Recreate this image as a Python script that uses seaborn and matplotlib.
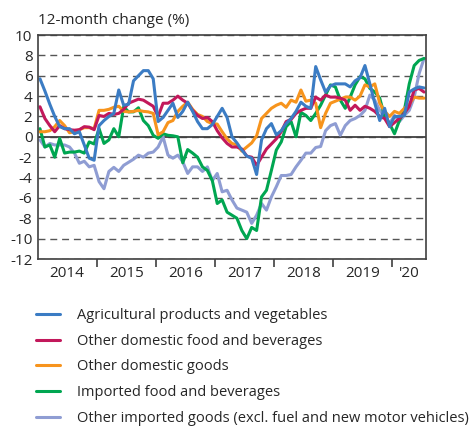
import numpy as np
import pandas as pd
import matplotlib
matplotlib.use('Agg')
import matplotlib.pyplot as plt
import seaborn as sns

# monthly values, Jan 2014 .. Jul 2020
agri = [5.7, 4.5, 3.2, 2.0, 1.0, 0.8, 0.8, 0.3, 0.5, -0.8, -2.1, -2.3,
        1.1, 1.6, 2.0, 2.3, 4.6, 3.1, 3.2, 5.5, 6.0, 6.5, 6.5, 5.7,
        1.5, 1.9, 2.6, 3.3, 1.9, 2.5, 3.4, 2.5, 1.5, 0.8, 0.8, 1.2,
        2.0, 2.8, 1.9, 0.0, -0.6, -1.3, -1.9, -2.1, -3.7, -0.3, 0.8, 1.3,
        0.2, 0.6, 1.3, 1.8, 2.5, 3.4, 3.0, 2.8, 6.9, 5.6, 4.4, 5.0,
        5.2, 5.2, 5.2, 4.9, 5.5, 5.8, 7.0, 5.2, 3.3, 1.6, 2.8, 1.0,
        2.0, 2.0, 2.1, 4.4, 4.7, 4.9, 4.8]
dom_food = [2.95, 1.8, 1.1, 0.5, 1.1, 0.8, 0.7, 0.65, 0.7, 1.0, 0.95, 0.7,
            2.1, 2.0, 2.3, 2.2, 2.3, 2.7, 3.3, 3.5, 3.7, 3.6, 3.3, 3.0,
            2.0, 3.3, 3.3, 3.6, 4.0, 3.6, 3.3, 2.6, 2.1, 1.8, 1.9, 1.5,
            0.6, -0.1, -0.65, -1.0, -1.0, -1.2, -1.9, -2.0, -2.8, -2.0, -1.2, -0.7,
            -0.2, 0.5, 1.5, 1.7, 2.3, 2.6, 2.8, 2.8, 3.9, 3.6, 4.1, 3.9,
            3.9, 3.8, 3.6, 2.6, 3.1, 2.6, 3.0, 2.8, 2.5, 2.0, 1.8, 1.0,
            1.4, 1.8, 2.3, 3.0, 4.6, 4.75, 4.4]
dom_goods = [0.5, 0.5, 0.6, 1.0, 1.6, 1.1, 0.4, 0.5, 0.7, 0.9, 0.9, 0.8,
             2.6, 2.6, 2.7, 2.9, 3.0, 2.5, 2.45, 2.5, 2.6, 2.5, 2.45, 2.3,
             0.2, 0.5, 1.4, 1.6, 2.5, 3.0, 3.4, 2.7, 2.2, 2.0, 1.5, 1.3,
             1.25, 0.5, -0.2, -0.65, -0.8, -1.4, -1.0, -0.6, 0.1, 1.8, 2.3, 2.8,
             3.1, 3.3, 2.9, 3.6, 3.4, 4.6, 3.5, 3.6, 3.3, 0.9, 2.3, 3.3,
             3.5, 3.7, 3.9, 3.9, 3.6, 4.0, 5.1, 4.9, 5.2, 3.3, 2.5, 2.0,
             2.5, 2.3, 2.8, 3.2, 3.9, 3.8, 3.8]
imp_food = [0.8, -1.0, -0.8, -2.0, -0.15, -1.6, -1.5, -1.5, -1.4, -1.6, -0.5, -0.7,
            0.8, -0.65, -0.3, 0.8, 0.0, 2.95, 2.45, 2.45, 2.85, 1.6, 1.1, 0.15,
            -0.15, 0.3, 0.15, 0.1, 0.0, -2.55, -1.25, -1.6, -2.0, -2.95, -3.3, -4.3,
            -6.55, -6.2, -7.4, -7.7, -8.0, -9.2, -10.0, -8.9, -9.2, -5.9, -5.25, -3.3,
            -1.3, -0.5, 1.0, 1.5, 0.0, 2.4, 2.1, 1.6, 2.3, 3.1, 4.1, 5.1,
            4.9, 3.6, 2.8, 3.9, 5.1, 5.9, 5.7, 4.75, 4.4, 3.8, 2.0, 1.3,
            0.3, 1.6, 2.6, 5.2, 7.0, 7.5, 7.7]
imp_goods = [-0.3, -1.0, -0.65, -0.8, -0.8, -0.8, -1.0, -1.6, -2.6, -2.4, -2.95, -2.8,
             -4.4, -5.1, -3.4, -3.0, -3.4, -2.8, -2.5, -2.2, -1.8, -2.0, -1.6, -1.5,
             -1.0, 0.0, -1.8, -2.1, -1.8, -2.45, -3.6, -2.95, -2.95, -3.4, -2.95, -4.3,
             -3.6, -5.4, -5.25, -6.2, -7.0, -7.2, -7.4, -8.5, -7.7, -6.55, -7.2, -5.9,
             -4.9, -3.8, -3.8, -3.7, -2.95, -2.3, -1.6, -1.6, -1.05, -0.95, 0.6, 1.1,
             1.3, 0.15, 1.1, 1.6, 1.8, 2.1, 2.6, 4.1, 3.6, 2.6, 2.0, 1.3,
             2.1, 1.5, 2.1, 2.6, 3.9, 6.2, 7.7]

names = ['Agricultural products and vegetables',
         'Other domestic food and beverages',
         'Other domestic goods',
         'Imported food and beverages',
         'Other imported goods (excl. fuel and new motor vehicles)']
series = [agri, dom_food, dom_goods, imp_food, imp_goods]
colors = ['#3b7cc4', '#c2185b', '#f7941d', '#00a651', '#8f9dd3']
year_labels = ['2014', '2015', '2016', '2017', '2018', '2019', "'20"]

months = np.arange(len(agri))
df = pd.DataFrame({'month': np.tile(months, len(series)),
                   'value': np.concatenate(series),
                   'series': np.repeat(names, len(agri))})

sns.set_style('white')
plt.rcParams['font.family'] = ['Open Sans', 'DejaVu Sans']
plt.rcParams['axes.unicode_minus'] = False

fig = plt.figure(figsize=(4.7, 4.28), dpi=100)
ax = fig.add_axes([38/470, 1-259/428, 388/470, 224/428])

# draw last series first so blue ends up on top
for name, col in reversed(list(zip(names, colors))):
    sns.lineplot(data=df[df['series'] == name], x='month', y='value',
                 color=col, lw=2.2, label=name, ax=ax, legend=False)

ax.set_xlim(-0.4, 78.4)
ax.set_ylim(-12, 10)
ax.set_yticks(range(-12, 11, 2))
ax.set_yticklabels([str(v) for v in range(-12, 11, 2)], fontsize=11)
ax.tick_params(axis='y', length=0, pad=4)

ax.grid(axis='y', ls=(0, (5, 3.5)), color='#555555', lw=1.0)
ax.grid(axis='x', visible=False)
ax.axhline(0, color='#404040', lw=1.3, zorder=1)

bounds = [11.5, 23.5, 35.5, 47.5, 59.5, 71.5]
centers = [5.5, 17.5, 29.5, 41.5, 53.5, 65.5, 75.0]
ax.set_xticks(bounds, minor=True)
ax.set_xticks(centers)
ax.set_xticklabels(year_labels, fontsize=11)
ax.tick_params(axis='x', which='major', length=0, pad=5)
ax.tick_params(axis='x', which='minor', length=6, width=1.2, color='#404040',
               direction='out', bottom=True)
ax.set_xlabel('')
ax.set_ylabel('')

for s in ax.spines.values():
    s.set_color('#404040')
    s.set_linewidth(1.2)

fig.text(38/470, 1-20/428, '12-month change (%)', fontsize=11,
         ha='left', va='center')

h, l = ax.get_legend_handles_labels()
order = [l.index(n) for n in names]
leg = fig.legend([h[i] for i in order], [l[i] for i in order],
                 loc='upper left', bbox_to_anchor=(30/470, 1-302/428),
                 frameon=False, fontsize=10.5, handlelength=1.65,
                 handletextpad=1.2, labelspacing=0.74, borderaxespad=0)
for line in leg.get_lines():
    line.set_linewidth(2.2)

fig.savefig('out.png', dpi=100)
